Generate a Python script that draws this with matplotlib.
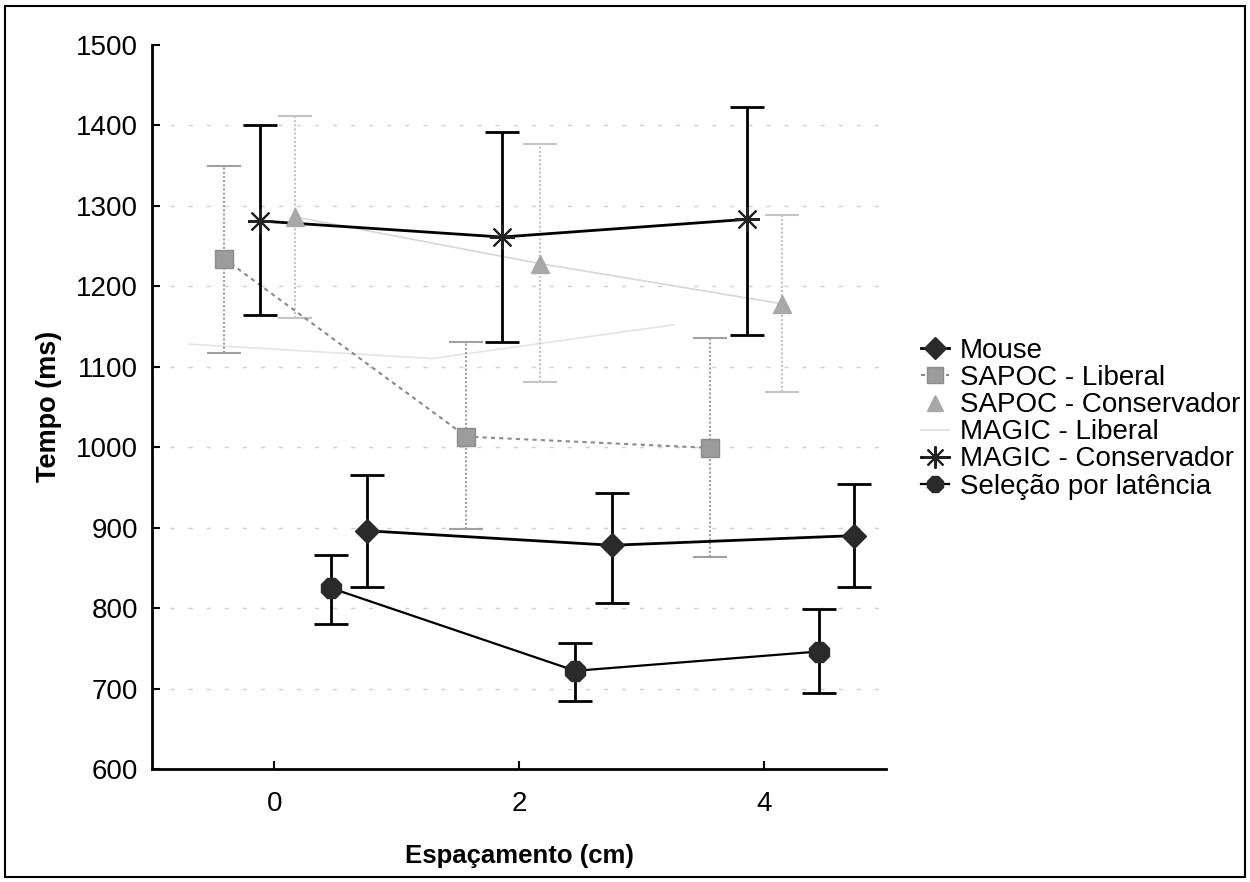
import matplotlib
matplotlib.use("Agg")
import matplotlib.pyplot as plt
from matplotlib.patches import Rectangle
from matplotlib.lines import Line2D

plt.rcParams['font.family'] = ['Liberation Sans', 'DejaVu Sans']

# ---- data ----
series_names = ["Mouse", "SAPOC - Liberal", "SAPOC - Conservador",
                "MAGIC - Liberal", "MAGIC - Conservador", "Seleção por latência"]

mouse_x = [0.76, 2.76, 4.74]
mouse_y = [896, 878, 890]
mouse_hi = [965, 943, 954]
mouse_lo = [826, 806, 826]

sapl_x = [-0.41, 1.57, 3.56]
sapl_y = [1234, 1013, 999]
sapl_hi = [1349, 1130, 1136]
sapl_lo = [1117, 898, 864]

sapc_x = [0.17, 2.17, 4.15]
sapc_y = [1286, 1228, 1178]
sapc_hi = [1412, 1377, 1288]
sapc_lo = [1160, 1081, 1069]

magl_x = [-0.70, 1.29, 3.27]
magl_y = [1128, 1110, 1152]

magc_x = [-0.12, 1.86, 3.86]
magc_y = [1281, 1261, 1283]
magc_hi = [1400, 1392, 1423]
magc_lo = [1164, 1130, 1139]

sel_x = [0.46, 2.46, 4.45]
sel_y = [825, 722, 746]
sel_hi = [866, 756, 799]
sel_lo = [780, 684, 694]

xticks = [0, 2, 4]
yticks = [600, 700, 800, 900, 1000, 1100, 1200, 1300, 1400, 1500]

fig = plt.figure(figsize=(12.5, 8.82), dpi=100)
ax = fig.add_axes([152/1250, 1-769/882, (886-152)/1250, (769-44.7)/882])

# grid
for v in yticks[1:-1]:
    ax.axhline(v, color='#d0d0d0', lw=1.0, ls=(0, (3, 10)), zorder=0)


def err(y, hi, lo):
    return [[a - b for a, b in zip(y, lo)], [c - a for a, c in zip(y, hi)]]


# MAGIC Liberal (very faint)
ax.plot(magl_x, magl_y, color='#e4e4e4', lw=1.2, zorder=1)

# SAPOC Conservador
ax.plot(sapc_x, sapc_y, color='#d8d8d8', lw=1.2, zorder=2)
eb = ax.errorbar(sapc_x, sapc_y, yerr=err(sapc_y, sapc_hi, sapc_lo), fmt='none',
                 ecolor='#c4c4c4', elinewidth=1.5, capsize=12, capthick=1.5, zorder=2)
eb[2][0].set_linestyle((0, (1, 1)))
ax.plot(sapc_x, sapc_y, ls='none', marker='^', ms=13, mfc='#a8a8a8', mec='#a8a8a8', zorder=5)

# SAPOC Liberal
ax.plot(sapl_x, sapl_y, color='#8a8a8a', lw=1.5, ls=(0, (2, 2)), zorder=3)
eb = ax.errorbar(sapl_x, sapl_y, yerr=err(sapl_y, sapl_hi, sapl_lo), fmt='none',
                 ecolor='#a0a0a0', elinewidth=1.5, capsize=12, capthick=1.5, zorder=3)
eb[2][0].set_linestyle((0, (1, 1)))
ax.plot(sapl_x, sapl_y, ls='none', marker='s', ms=13, mfc='#9c9c9c', mec='#8c8c8c', zorder=5)

# MAGIC Conservador
ax.plot(magc_x, magc_y, color='black', lw=2, zorder=4)
ax.errorbar(magc_x, magc_y, yerr=err(magc_y, magc_hi, magc_lo), fmt='none',
            ecolor='black', elinewidth=2, capsize=12, capthick=2, zorder=4)
ax.plot(magc_x, magc_y, ls='none', marker=(8, 2, 0), ms=18, mec='#222222', mew=1.5, zorder=5)

# Mouse
ax.plot(mouse_x, mouse_y, color='black', lw=2, zorder=4)
ax.errorbar(mouse_x, mouse_y, yerr=err(mouse_y, mouse_hi, mouse_lo), fmt='none',
            ecolor='black', elinewidth=2, capsize=12, capthick=2, zorder=4)
ax.plot(mouse_x, mouse_y, ls='none', marker='D', ms=12, mfc='#2a2a2a', mec='#2a2a2a', zorder=5)

# Seleção
ax.plot(sel_x, sel_y, color='black', lw=1.6, zorder=4)
ax.errorbar(sel_x, sel_y, yerr=err(sel_y, sel_hi, sel_lo), fmt='none',
            ecolor='black', elinewidth=2, capsize=12, capthick=2, zorder=4)
ax.plot(sel_x, sel_y, ls='none', marker='8', ms=15, mfc='#2a2a2a', mec='#2a2a2a', zorder=5)

ax.set_xlim(-1, 5)
ax.set_ylim(600, 1500)
ax.set_xticks(xticks)
ax.set_yticks(yticks)
ax.tick_params(direction='in', length=6, width=1.5, labelsize=20, pad=10)
ax.tick_params(axis='x', pad=16)
for s in ['top', 'right']:
    ax.spines[s].set_visible(False)
for s in ['left', 'bottom']:
    ax.spines[s].set_linewidth(2)
ax.set_xlabel("Espaçamento (cm)", fontsize=18.5, fontweight='bold', labelpad=19)
ax.set_ylabel("Tempo (ms)", fontsize=19.5, fontweight='bold', labelpad=10)

handles = [
    Line2D([], [], color='black', lw=2, marker='D', ms=11, mfc='#2a2a2a', mec='#2a2a2a'),
    Line2D([], [], color='#8a8a8a', lw=1.5, ls=(0, (2, 2)), marker='s', ms=11, mfc='#9c9c9c', mec='#8c8c8c'),
    Line2D([], [], color='none', marker='^', ms=11, mfc='#a8a8a8', mec='#a8a8a8'),
    Line2D([], [], color='#dcdcdc', lw=1.2),
    Line2D([], [], color='black', lw=2, marker=(8, 2, 0), ms=16, mec='#222222', mew=1.5),
    Line2D([], [], color='black', lw=1.6, marker='8', ms=13, mfc='#2a2a2a', mec='#2a2a2a'),
]
fig.legend(handles, series_names, loc='upper left', bbox_to_anchor=(921/1250, 1-338/882),
           frameon=False, fontsize=20, handlelength=1.0, handletextpad=0.4,
           labelspacing=0.04, borderpad=0, borderaxespad=0)

fig.add_artist(Rectangle((5/1250, 5/882), 1240/1250, 871/882, transform=fig.transFigure,
                         fill=False, lw=1.5, ec='black'))

fig.savefig("out.png", dpi=100)
